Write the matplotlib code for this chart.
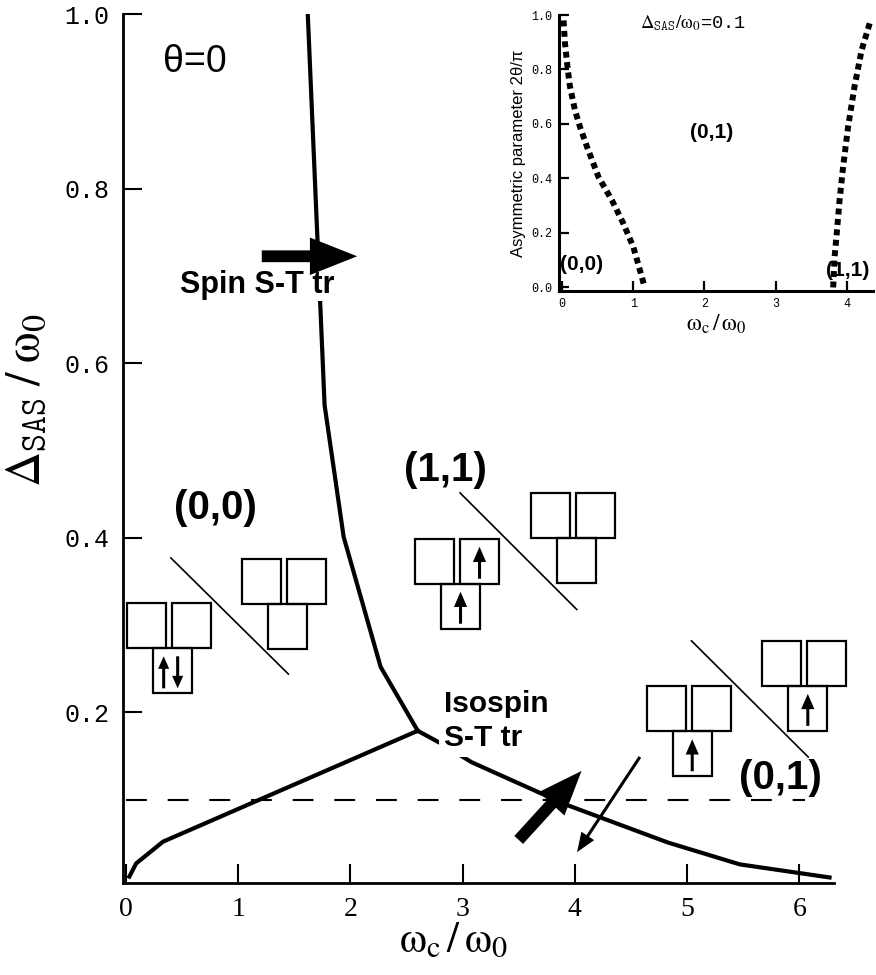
import matplotlib.pyplot as plt
from matplotlib.patches import Rectangle

plt.rcParams['mathtext.fontset'] = 'stix'
plt.rcParams['font.monospace'] = ['Liberation Mono', 'DejaVu Sans Mono']
plt.rcParams['font.family'] = ['Liberation Sans', 'DejaVu Sans']

# main panel: phase boundaries (omega_c/omega_0 vs Delta_SAS/omega_0)
spin_x = [1.62, 1.77, 1.94, 2.27, 2.60]
spin_y = [1.00, 0.552, 0.401, 0.252, 0.179]
iso_left_x = [0.03, 0.09, 0.33, 2.60]
iso_left_y = [0.012, 0.027, 0.052, 0.179]
iso_right_x = [2.60, 2.80, 3.08, 3.93, 4.83, 5.47, 6.27]
iso_right_y = [0.179, 0.165, 0.143, 0.094, 0.051, 0.026, 0.011]
delta_cut = 0.1

# inset: asymmetric parameter vs omega_c/omega_0 at Delta_SAS/omega_0 = 0.1
in_left_x = [0.02, 0.04, 0.075, 0.11, 0.18, 0.25, 0.35, 0.51, 0.70, 0.86, 1.00, 1.12, 1.16]
in_left_y = [0.98, 0.896, 0.81, 0.737, 0.651, 0.59, 0.516, 0.406, 0.32, 0.235, 0.149, 0.039, 0.0]
in_right_x = [3.81, 3.83, 3.86, 3.90, 3.95, 4.02, 4.11, 4.21, 4.33]
in_right_y = [0.0, 0.112, 0.198, 0.32, 0.443, 0.59, 0.737, 0.871, 0.975]

# occupation sketches: anchor (top-left corner) and arrows in (TL, TR, bottom) cells
grp_x = [0.006, 1.036, 2.576, 3.610, 4.641, 5.671]
grp_y = [0.325, 0.376, 0.399, 0.451, 0.230, 0.282]
grp_spin = [('', '', 'ud'), ('', '', ''), ('', 'u', 'u'), ('', '', ''), ('', '', 'u'), ('', '', 'u')]
sep_lines = [((0.40, 1.447), (0.377, 0.244)), ((2.977, 4.017), (0.4515, 0.318)), ((5.04, 6.08), (0.282, 0.149))]

fig = plt.figure(figsize=(8.76, 9.75), dpi=100)
W, H = 876, 975
xmin, xmax, ymin, ymax = -0.024, 6.31, 0.005, 1.0
ax = fig.add_axes([123.3 / W, 1 - 882.7 / H, (834 - 123.3) / W, (882.7 - 14) / H])
ax.set_xlim(xmin, xmax)
ax.set_ylim(ymin, ymax)
for s in ['top', 'right']:
    ax.spines[s].set_visible(False)
for s in ['left', 'bottom']:
    ax.spines[s].set_linewidth(2.0)

ax.plot(spin_x, spin_y, color='black', lw=3, zorder=2)
ax.plot(iso_left_x, iso_left_y, color='black', lw=3, zorder=2)
ax.plot(iso_right_x, iso_right_y, color='black', lw=3, zorder=2)
ax.plot([0, 6.05], [delta_cut, delta_cut], color='black', lw=1.5, dashes=(10, 10), zorder=2)

ax.set_xticks(range(7))
ax.set_yticks([0.2, 0.4, 0.6, 0.8, 1.0])
ax.set_yticklabels(['0.2', '0.4', '0.6', '0.8', '1.0'])
ax.tick_params(direction='in', length=14, width=1.5, pad=10)
for t in ax.get_yticklabels():
    t.set_fontfamily('Liberation Mono')
    t.set_fontsize(18)
for t in ax.get_xticklabels():
    t.set_fontfamily('Liberation Serif')
    t.set_fontsize(20)

ax.set_xlabel(r'$\mathrm{\omega}_{\mathrm{c}}\,/\,\mathrm{\omega}_0$', fontsize=31)
ax.xaxis.set_label_coords(0.464, -0.045)
ax.set_ylabel(r'$\Delta_{\mathtt{SAS}}\;/\;\mathrm{\omega}_0$', fontsize=35)
ax.yaxis.set_label_coords(-0.104, 0.556)

ax.text(0.33, 0.933, 'θ=0', fontsize=27, ha='left', va='baseline')
bold = dict(fontweight='bold', color='black')
ax.text(0.48, 0.69, 'Spin S-T tr', fontsize=22, va='center', ha='left', zorder=4,
        bbox=dict(facecolor='white', edgecolor='none', pad=1), **bold)
ax.text(2.83, 0.226, 'Isospin\nS-T tr', fontsize=21.5, va='top', ha='left', zorder=4, linespacing=1.3,
        bbox=dict(facecolor='white', edgecolor='none', pad=3), **bold)
ax.text(0.80, 0.434, '(0,0)', fontsize=29, ha='center', va='center', **bold)
ax.text(2.85, 0.4775, '(1,1)', fontsize=29, ha='center', va='center', **bold)
ax.text(5.836, 0.1254, '(0,1)', fontsize=29, ha='center', va='center', **bold)

# arrows
ax.annotate('', xy=(2.06, 0.7225), xytext=(1.21, 0.7225),
            arrowprops=dict(width=8.5, headwidth=27, headlength=34, facecolor='black', lw=0), zorder=5)
ax.annotate('', xy=(4.06, 0.133), xytext=(3.50, 0.054),
            arrowprops=dict(width=8.5, headwidth=25, headlength=32, facecolor='black', lw=0), zorder=5)
ax.annotate('', xy=(4.02, 0.040), xytext=(4.58, 0.149),
            arrowprops=dict(width=2.2, headwidth=11, headlength=14, facecolor='black', lw=0), zorder=5)

for (lx, ly) in sep_lines:
    ax.plot(lx, ly, color='black', lw=1.2, zorder=2, clip_on=False)

# occupation boxes
sx = (834 - 123.3) / (xmax - xmin)
sy = (882.7 - 14) / (ymax - ymin)
bw, bh = 39 / sx, 45 / sy
cell_off = [(0, 0), (45 / sx, 0), (26 / sx, -45 / sy)]
up = dict(width=2.2, headwidth=9.5, headlength=11, facecolor='black', lw=0)
pair = dict(width=2.2, headwidth=8, headlength=9, facecolor='black', lw=0)
for gx, gy, spins in zip(grp_x, grp_y, grp_spin):
    for (ox, oy), sp in zip(cell_off, spins):
        x0, y0 = gx + ox, gy + oy - bh
        ax.add_patch(Rectangle((x0, y0), bw, bh, fill=False, lw=1.6, ec='black', zorder=3, clip_on=False))
        if sp == 'u':
            ax.annotate('', xy=(x0 + bw / 2, y0 + bh - 8 / sy), xytext=(x0 + bw / 2, y0 + 5 / sy),
                        arrowprops=up, annotation_clip=False)
        elif sp == 'ud':
            ax.annotate('', xy=(x0 + 11 / sx, y0 + bh - 8 / sy), xytext=(x0 + 11 / sx, y0 + 5 / sy),
                        arrowprops=pair, annotation_clip=False)
            ax.annotate('', xy=(x0 + 25 / sx, y0 + 5 / sy), xytext=(x0 + 25 / sx, y0 + bh - 8 / sy),
                        arrowprops=pair, annotation_clip=False)

# inset
ix0, ix1, iy0, iy1 = -0.04, 4.37, -0.013, 1.0
axi = fig.add_axes([559.3 / W, 1 - 291 / H, (873 - 559.3) / W, (291 - 15) / H])
axi.set_xlim(ix0, ix1)
axi.set_ylim(iy0, iy1)
for s in ['top', 'right']:
    axi.spines[s].set_visible(False)
for s in ['left', 'bottom']:
    axi.spines[s].set_linewidth(2.2)
axi.plot(in_left_x, in_left_y, color='black', lw=4.3, linestyle=(0, (1, 0.75)), dash_capstyle='butt', clip_on=False)
axi.plot(in_right_x, in_right_y, color='black', lw=4.3, linestyle=(0, (1, 0.75)), dash_capstyle='butt', clip_on=False)
axi.set_xticks(range(5))
axi.set_yticks([0.0, 0.2, 0.4, 0.6, 0.8, 1.0])
axi.set_yticklabels(['0.0', '0.2', '0.4', '0.6', '0.8', '1.0'])
axi.tick_params(direction='in', length=7, width=1.6, pad=5)
for t in axi.get_xticklabels() + axi.get_yticklabels():
    t.set_fontfamily('Liberation Mono')
    t.set_fontsize(8.5)
axi.set_xlabel(r'$\mathrm{\omega}_{\mathrm{c}}\,/\,\mathrm{\omega}_0$', fontsize=17, labelpad=2)
axi.set_ylabel('Asymmetric parameter 2θ/π', fontsize=12, labelpad=4)
axi.text(1.84, 0.97, r'$\Delta_{\mathtt{SAS}}/\mathrm{\omega}_0$=0.1', fontsize=13.5, ha='center', va='center',
         family='Liberation Mono')
axi.text(2.10, 0.567, '(0,1)', fontsize=15, ha='center', va='center', **bold)
axi.text(0.27, 0.086, '(0,0)', fontsize=15, ha='center', va='center', **bold)
axi.text(4.02, 0.061, '(1,1)', fontsize=15, ha='center', va='center', clip_on=False, **bold)

fig.savefig('out.png', dpi=100)
